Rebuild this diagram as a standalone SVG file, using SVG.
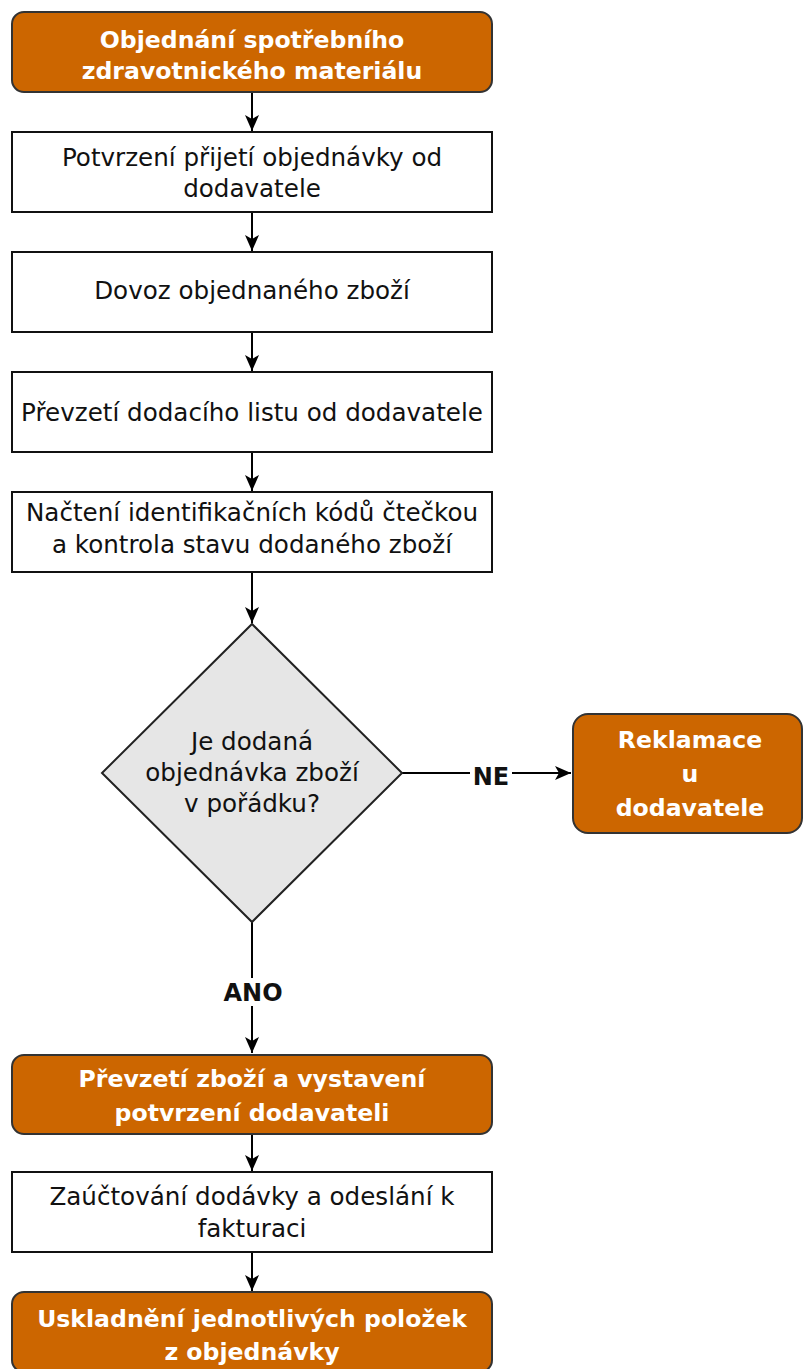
<svg xmlns="http://www.w3.org/2000/svg" width="803" height="1369" viewBox="0 0 803 1369">
<style>
.box{fill:#ffffff;stroke:#111111;stroke-width:2}
.obox{fill:#cc6600;stroke:#333333;stroke-width:2}
.dia{fill:#e6e6e6;stroke:#222222;stroke-width:2}
.t{font-family:"DejaVu Sans",Verdana,sans-serif;font-size:24.6px;fill:#111111;text-anchor:middle}
.tb{font-family:"DejaVu Sans",Verdana,sans-serif;font-size:23.6px;font-weight:bold;fill:#ffffff;text-anchor:middle}
.lbl{font-family:"DejaVu Sans",Verdana,sans-serif;font-size:24px;font-weight:bold;fill:#111111;text-anchor:middle}
.c{fill:none;stroke:#000000;stroke-width:2}
</style>
<defs>
<marker id="arr" markerUnits="userSpaceOnUse" markerWidth="18" markerHeight="16" refX="16" refY="7" orient="auto">
<path d="M0,0 L16,7 L0,14 L4,7 Z" fill="#000000"/>
</marker>
</defs>
<rect width="803" height="1369" fill="#ffffff"/>
<g id="connectors">
<line class="c" x1="252" y1="92" x2="252" y2="131" marker-end="url(#arr)"/>
<line class="c" x1="252" y1="212" x2="252" y2="251" marker-end="url(#arr)"/>
<line class="c" x1="252" y1="332" x2="252" y2="371" marker-end="url(#arr)"/>
<line class="c" x1="252" y1="452" x2="252" y2="491" marker-end="url(#arr)"/>
<line class="c" x1="252" y1="572" x2="252" y2="623" marker-end="url(#arr)"/>
<line class="c" x1="402" y1="773" x2="571" y2="773" marker-end="url(#arr)"/>
<line class="c" x1="252" y1="922" x2="252" y2="1053" marker-end="url(#arr)"/>
<line class="c" x1="252" y1="1134" x2="252" y2="1171" marker-end="url(#arr)"/>
<line class="c" x1="252" y1="1252" x2="252" y2="1291" marker-end="url(#arr)"/>
<rect x="470" y="760" width="42" height="26" fill="#ffffff"/>
<text class="lbl" x="491" y="785">NE</text>
<rect x="222" y="978" width="62" height="28" fill="#ffffff"/>
<text class="lbl" x="253" y="1001">ANO</text>
</g>
<g id="n1">
<rect class="obox" x="12" y="12" width="480" height="80" rx="12"/>
<text class="tb" x="252" y="48">Objednání spotřebního</text>
<text class="tb" x="252" y="79">zdravotnického materiálu</text>
</g>
<g id="n2">
<rect class="box" x="12" y="132" width="480" height="80"/>
<text class="t" x="252" y="166">Potvrzení přijetí objednávky od</text>
<text class="t" x="252" y="197">dodavatele</text>
</g>
<g id="n3">
<rect class="box" x="12" y="252" width="480" height="80"/>
<text class="t" x="252" y="299">Dovoz objednaného zboží</text>
</g>
<g id="n4">
<rect class="box" x="12" y="372" width="480" height="80"/>
<text class="t" x="252" y="421">Převzetí dodacího listu od dodavatele</text>
</g>
<g id="n5">
<rect class="box" x="12" y="492" width="480" height="80"/>
<text class="t" x="252" y="521">Načtení identifikačních kódů čtečkou</text>
<text class="t" x="252" y="553">a kontrola stavu dodaného zboží</text>
</g>
<g id="n6">
<path class="dia" d="M252,624 L402,773 L252,922 L102,773 Z"/>
<text class="t" x="252" y="750">Je dodaná</text>
<text class="t" x="252" y="781">objednávka zboží</text>
<text class="t" x="252" y="812">v pořádku?</text>
</g>
<g id="n7">
<rect class="obox" x="573" y="714" width="229" height="119" rx="15"/>
<text class="tb" x="690" y="748">Reklamace</text>
<text class="tb" x="690" y="782">u</text>
<text class="tb" x="690" y="816">dodavatele</text>
</g>
<g id="n8">
<rect class="obox" x="12" y="1055" width="480" height="79" rx="12"/>
<text class="tb" x="252" y="1087">Převzetí zboží a vystavení</text>
<text class="tb" x="252" y="1121">potvrzení dodavateli</text>
</g>
<g id="n9">
<rect class="box" x="12" y="1172" width="480" height="80"/>
<text class="t" x="252" y="1205">Zaúčtování dodávky a odeslání k</text>
<text class="t" x="252" y="1237">fakturaci</text>
</g>
<g id="n10">
<rect class="obox" x="12" y="1292" width="480" height="80" rx="12"/>
<text class="tb" x="252" y="1327">Uskladnění jednotlivých položek</text>
<text class="tb" x="252" y="1360">z objednávky</text>
</g>
</svg>
